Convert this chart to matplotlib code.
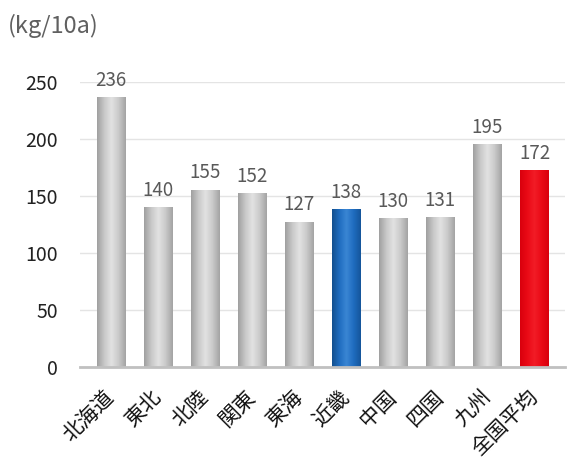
import numpy as np
import matplotlib.pyplot as plt
from matplotlib.colors import LinearSegmentedColormap

plt.rcParams['font.family'] = ['Noto Sans CJK JP', 'DejaVu Sans']

regions = ['北海道', '東北', '北陸', '関東', '東海', '近畿', '中国', '四国', '九州', '全国平均']
values = [236, 140, 155, 152, 127, 138, 130, 131, 195, 172]
kinds = ['gray'] * 5 + ['blue'] + ['gray'] * 3 + ['red']

cmaps = {
    'gray': LinearSegmentedColormap.from_list('g', ['#a0a0a0', '#c8c8c8', '#e2e2e2', '#cacaca', '#a4a4a4']),
    'blue': LinearSegmentedColormap.from_list('b', ['#124f8f', '#1f6cbf', '#3a86d4', '#1f6cbf', '#15569b']),
    'red': LinearSegmentedColormap.from_list('r', ['#d9000d', '#ea0a16', '#f21c26', '#ea0a16', '#d9000d']),
}

fig = plt.figure(figsize=(5.68, 4.63), dpi=100)
ax = fig.add_axes([0.141, 0.207, 0.854, 0.616])

x = np.arange(len(regions))
w = 0.6
bars = ax.bar(x, values, width=w, color='none', zorder=2)
grad = np.linspace(0, 1, 64).reshape(1, -1)
for b, k, v in zip(bars, kinds, values):
    x0 = b.get_x()
    ax.imshow(grad, cmap=cmaps[k], aspect='auto', extent=(x0, x0 + w, 0, v), zorder=2)
    ax.text(b.get_x() + w / 2, v + 6, str(v), ha='center', va='bottom',
            fontsize=13.5, color='#595959', clip_on=False)

ax.set_xlim(-0.65, len(regions) - 0.35)
ax.set_ylim(0, 250)
ax.set_yticks([0, 50, 100, 150, 200, 250])
ax.grid(axis='y', color='#e4e4e4', linewidth=1, zorder=0)
ax.set_axisbelow(True)
for s in ['top', 'right', 'left']:
    ax.spines[s].set_visible(False)
ax.spines['bottom'].set_color('#c0c0c0')
ax.spines['bottom'].set_linewidth(2)
ax.tick_params(axis='both', length=0)
ax.tick_params(axis='y', pad=16, labelsize=14, labelcolor='#222222')
ax.set_xticks(x)
ax.set_xticklabels(regions, rotation=45, ha='right', va='center', rotation_mode='anchor',
                   fontsize=15, fontweight='normal', color='#111111')
ax.tick_params(axis='x', pad=19)

fig.text(0.014, 0.944, '(kg/10a)', fontsize=17, color='#606060', va='center', ha='left')

fig.savefig('out.png', dpi=100)
